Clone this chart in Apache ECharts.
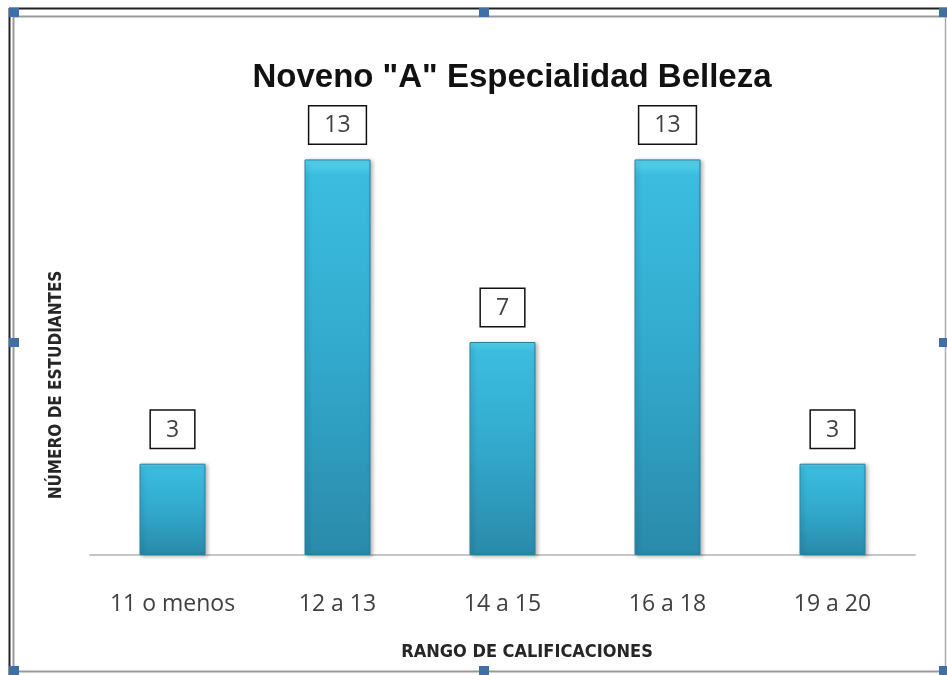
<!DOCTYPE html>
<html>
<head>
<meta charset="utf-8">
<script src="https://cdn.jsdelivr.net/npm/echarts@6/dist/echarts.min.js"></script>
<style>
  html, body { margin: 0; padding: 0; background: #fff; }
  #chart { width: 947px; height: 675px; }
</style>
</head>
<body>
<div id="chart"></div>
<script>
// rangos de calificaciones y numero de estudiantes
var categorias = ['11 o menos', '12 a 13', '14 a 15', '16 a 18', '19 a 20'];
var estudiantes = [3, 13, 7, 13, 3];

var myChart = echarts.init(document.getElementById('chart'));

// marco y asas de seleccion (decoracion del recorte)
var asaColor = '#3f6fa8';
var asas = [[9, 8], [479, 8], [939, 8], [9, 338], [939, 338], [9, 666], [479, 666], [939, 666]];
var graficos = [
  { type: 'line', shape: { x1: 9, y1: 8.5, x2: 947, y2: 8.5 }, style: { stroke: '#222', lineWidth: 2 } },
  { type: 'line', shape: { x1: 9.5, y1: 8, x2: 9.5, y2: 675 }, style: { stroke: '#222', lineWidth: 2 } },
  { type: 'line', shape: { x1: 13, y1: 16.5, x2: 947, y2: 16.5 }, style: { stroke: '#999', lineWidth: 2 } },
  { type: 'line', shape: { x1: 13.5, y1: 16, x2: 13.5, y2: 675 }, style: { stroke: '#999', lineWidth: 2 } },
  { type: 'line', shape: { x1: 945.5, y1: 16, x2: 945.5, y2: 675 }, style: { stroke: '#aaa', lineWidth: 1.5 } },
  { type: 'line', shape: { x1: 13, y1: 671.5, x2: 947, y2: 671.5 }, style: { stroke: '#999', lineWidth: 2 } },
  {
    type: 'text', x: 57, y: 385, rotation: Math.PI / 2,
    style: {
      text: 'NÚMERO DE ESTUDIANTES', fill: '#262626',
      font: 'bold 17px "Liberation Sans Narrow", "DejaVu Sans Condensed", sans-serif',
      textAlign: 'center', textVerticalAlign: 'middle'
    }
  },
  {
    type: 'text', x: 527, y: 652,
    style: {
      text: 'RANGO DE CALIFICACIONES', fill: '#262626',
      font: 'bold 18px "Liberation Sans Narrow", "DejaVu Sans Condensed", sans-serif',
      textAlign: 'center', textVerticalAlign: 'middle'
    }
  }
];
for (var i = 0; i < asas.length; i++) {
  graficos.push({
    type: 'rect', shape: { x: asas[i][0], y: asas[i][1], width: 10, height: 9 },
    style: { fill: asaColor }
  });
}

var option = {
  animation: false,
  title: {
    text: 'Noveno "A" Especialidad Belleza',
    left: 507,
    textAlign: 'center',
    top: 56,
    textStyle: {
      color: '#111',
      fontFamily: 'Liberation Sans, Arial, sans-serif',
      fontWeight: 'bold',
      fontSize: 33
    }
  },
  grid: {
    left: 90,
    right: 32,
    top: 129,
    bottom: 120
  },
  xAxis: {
    type: 'category',
    data: categorias,
    axisLine: { lineStyle: { color: '#c6c6c6', width: 2 } },
    axisTick: { show: false },
    axisLabel: {
      margin: 38,
      color: '#404040',
      fontFamily: '"Open Sans", Lato, sans-serif',
      fontSize: 23
    }
  },
  yAxis: {
    type: 'value',
    min: 0,
    max: 14,
    show: false
  },
  series: [{
    type: 'bar',
    data: estudiantes,
    barWidth: '40%',
    itemStyle: {
      color: new echarts.graphic.LinearGradient(0, 0, 0, 1, [
        { offset: 0, color: '#5ad6f2' },
        { offset: 0.04, color: '#3bbde0' },
        { offset: 0.5, color: '#32a9cc' },
        { offset: 1, color: '#2a8aab' }
      ]),
      borderColor: '#2680a0',
      borderWidth: 1,
      shadowBlur: 4,
      shadowOffsetX: 2,
      shadowOffsetY: 1,
      shadowColor: 'rgba(0,0,0,0.3)'
    },
    label: {
      show: true,
      position: 'top',
      distance: 16,
      color: '#404040',
      fontFamily: '"Open Sans", Lato, sans-serif',
      fontSize: 23,
      borderColor: '#111',
      borderWidth: 1.5,
      padding: [8, 15, 6, 15],
      backgroundColor: '#fff'
    }
  }],
  graphic: graficos
};
myChart.setOption(option);
</script>
</body>
</html>
